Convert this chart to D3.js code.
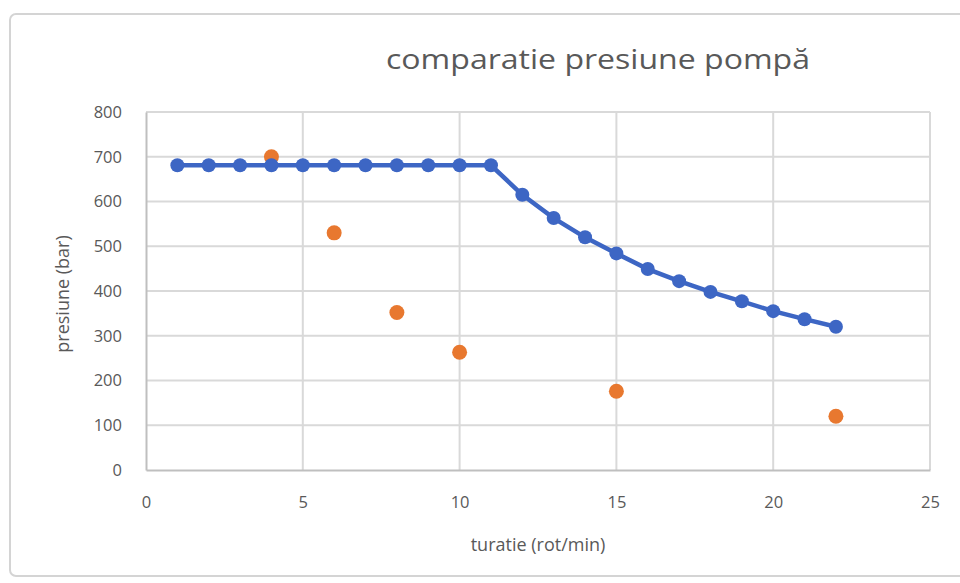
<!DOCTYPE html>
<html>
<head>
<meta charset="utf-8">
<script src="https://cdn.jsdelivr.net/npm/d3@7"></script>
<style>
	body { margin: 0; background: #fff; }
	text { font-family: "Open Sans", "Noto Sans", sans-serif; fill: #595959; }
</style>
</head>
<body>
<div id="chart"></div>
<script>
const chartTitle = "comparatie presiune pompă";
const xLabel = "turatie (rot/min)";
const yLabel = "presiune (bar)";
const xTicks = [0, 5, 10, 15, 20, 25];
const yTicks = [0, 100, 200, 300, 400, 500, 600, 700, 800];

// blue series: pump pressure curve
const pumpX = [1, 2, 3, 4, 5, 6, 7, 8, 9, 10, 11, 12, 13, 14, 15, 16, 17, 18, 19, 20, 21, 22];
const pumpY = [681, 681, 681, 681, 681, 681, 681, 681, 681, 681, 681, 615, 563, 520, 484, 449, 422, 398, 377, 355, 337, 320];
// orange series: measured points
const measX = [4, 6, 8, 10, 15, 22];
const measY = [700, 530, 352, 263, 176, 120];

const width = 960;
const height = 583;
const plot = { left: 146, right: 930, top: 112, bottom: 470 };

const svg = d3.select("#chart").append("svg").attr("width", width).attr("height", height);

svg.append("rect")
	.attr("x", 10).attr("y", 14)
	.attr("width", 980).attr("height", 562)
	.attr("rx", 6)
	.attr("fill", "#fff")
	.attr("stroke", "#d4d4d4")
	.attr("stroke-width", 2);

const x = d3.scaleLinear().domain([0, 25]).range([plot.left, plot.right]);
const y = d3.scaleLinear().domain([0, 800]).range([plot.bottom, plot.top]);

// gridlines
svg.append("g")
	.selectAll("line")
	.data(yTicks.slice(1))
	.enter()
	.append("line")
	.attr("x1", plot.left).attr("x2", plot.right)
	.attr("y1", (d) => y(d)).attr("y2", (d) => y(d))
	.attr("stroke", "#d9d9d9")
	.attr("stroke-width", 2);
svg.append("g")
	.selectAll("line")
	.data(xTicks.slice(1))
	.enter()
	.append("line")
	.attr("x1", (d) => x(d)).attr("x2", (d) => x(d))
	.attr("y1", plot.top).attr("y2", plot.bottom)
	.attr("stroke", "#d9d9d9")
	.attr("stroke-width", 2);

// axes
const xAxis = svg.append("g")
	.attr("transform", `translate(0,${plot.bottom})`)
	.call(d3.axisBottom(x).tickValues(xTicks).tickSize(0).tickPadding(26));
const yAxis = svg.append("g")
	.attr("transform", `translate(${plot.left},0)`)
	.call(d3.axisLeft(y).tickValues(yTicks).tickSize(0).tickPadding(24));
[xAxis, yAxis].forEach((a) => {
	a.select(".domain").attr("stroke", "#bfbfbf").attr("stroke-width", 2);
	a.selectAll("text").style("font-size", "16.5px").attr("fill", "#595959");
});

// blue line + markers
const line = d3.line().x((d) => x(d[0])).y((d) => y(d[1]));
const pumpData = pumpX.map((v, i) => [v, pumpY[i]]);
svg.append("path")
	.datum(pumpData)
	.attr("d", line)
	.attr("fill", "none")
	.attr("stroke", "#3d66c4")
	.attr("stroke-width", 4.5);

svg.append("g")
	.selectAll("circle")
	.data(measX.map((v, i) => [v, measY[i]]))
	.enter()
	.append("circle")
	.attr("cx", (d) => x(d[0]))
	.attr("cy", (d) => y(d[1]))
	.attr("r", 7.5)
	.attr("fill", "#e8782f");

svg.append("g")
	.selectAll("circle")
	.data(pumpData)
	.enter()
	.append("circle")
	.attr("cx", (d) => x(d[0]))
	.attr("cy", (d) => y(d[1]))
	.attr("r", 7)
	.attr("fill", "#3d66c4");

// titles
svg.append("text")
	.attr("x", 598).attr("y", 69)
	.attr("text-anchor", "middle")
	.attr("textLength", 424)
	.attr("lengthAdjust", "spacingAndGlyphs")
	.style("font-size", "27px")
	.text(chartTitle);

svg.append("text")
	.attr("x", (plot.left + plot.right) / 2).attr("y", 551)
	.attr("text-anchor", "middle")
	.style("font-size", "18px")
	.text(xLabel);

svg.append("text")
	.attr("transform", `translate(69,${(plot.top + plot.bottom) / 2 + 3}) rotate(-90)`)
	.attr("text-anchor", "middle")
	.style("font-size", "18px")
	.text(yLabel);
</script>
</body>
</html>
